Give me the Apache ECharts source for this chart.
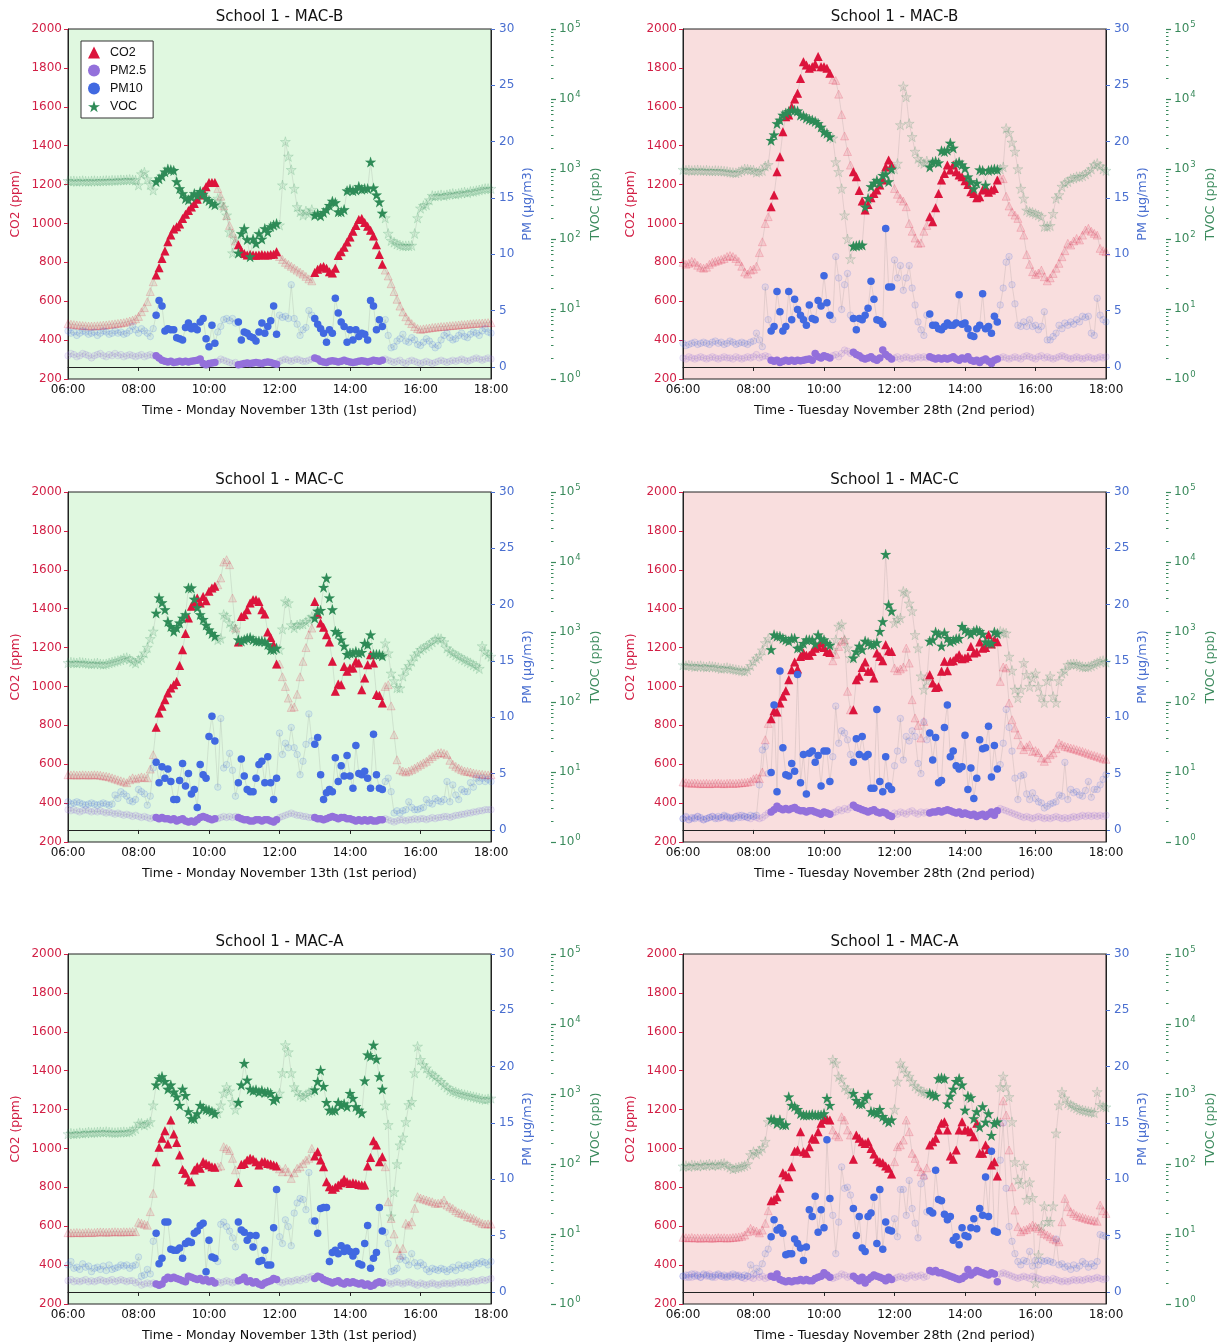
<!DOCTYPE html>
<html><head><meta charset="utf-8">
<script src="https://cdn.jsdelivr.net/npm/echarts@6/dist/echarts.min.js"></script>
<style>html,body{margin:0;padding:0;background:#fff}#c{width:1220px;height:1344px}</style>
</head><body><div id="c"></div>
<script>
// ---------------- DATA (5-minute samples, 06:00 .. 18:00, 145 values each) ----------------
const START_HOUR = 6, STEP_MIN = 5;
const CLASS_PERIODS = [['08:30','10:10'],['10:50','11:55'],['13:00','14:55']];
const PM_TICKS = [0, 5, 10, 15, 20, 25, 30];
const TVOC_TICKS = [1, 10, 100, 1000, 10000, 100000];
const TITLES = ['School 1 - MAC-B','School 1 - MAC-B','School 1 - MAC-C','School 1 - MAC-C','School 1 - MAC-A','School 1 - MAC-A'];
const X_NAMES = ['Time - Monday November 13th (1st period)','Time - Tuesday November 28th (2nd period)'];
const SERIES_NAMES = ['CO2','PM2.5','PM10','VOC'];

const P1_CO2 = [485,482,480,478,476,475,474,472,472,473,474,475,477,478,480,482,484,486,488,490,494,498,503,510,522,
546,567,598,650,700,
735,772,820,858,906,940,971,983,997,1026,1047,1066,1084,1103,1125,1146,1167,1189,1210,1210,1210,
1180,1140,1090,1040,990,950,910,
890,860,845,838,840,838,836,838,840,838,838,840,842,855,
830,815,800,790,780,770,760,750,740,728,715,705,
748,765,775,778,770,752,745,770,835,855,878,905,930,960,990,1020,1025,1005,985,965,935,890,840,790,
760,730,690,650,610,575,545,520,500,485,470,460,455,458,460,462,465,466,468,470,470,472,474,475,476,478,480,480,482,484,485,486,487,488,489,490,490];
const P1_PM25 = [1.0,1.2,1.1,0.9,1.0,1.2,1.1,1.0,0.8,1.0,1.1,1.2,1.0,0.9,1.1,1.0,1.2,1.0,1.1,0.9,1.0,1.1,1.0,0.9,1.0,1.1,0.9,1.0,1.1,1.0,
1.0,0.8,0.6,0.5,0.45,0.5,0.4,0.45,0.5,0.45,0.5,0.45,0.5,0.55,0.6,0.7,0.3,0.2,0.3,0.35,0.4,
0.5,0.7,0.6,0.5,0.4,0.3,0.4,
0.2,0.25,0.3,0.35,0.3,0.35,0.4,0.35,0.3,0.4,0.45,0.4,0.3,0.25,
0.5,0.6,0.7,0.6,0.5,0.6,0.7,0.6,0.5,0.5,0.6,0.7,
0.8,0.7,0.5,0.45,0.4,0.5,0.55,0.5,0.45,0.5,0.6,0.5,0.45,0.4,0.45,0.5,0.55,0.5,0.45,0.5,0.6,0.55,0.5,0.6,
0.7,0.6,0.5,0.4,0.5,0.6,0.4,0.3,0.5,0.6,0.5,0.4,0.3,0.4,0.5,0.4,0.3,0.4,0.5,0.6,0.5,0.4,0.5,0.6,0.5,0.6,0.7,0.6,0.5,0.6,0.7,0.8,0.7,0.6,0.7,0.8,0.7];
const P1_PM10 = [3.2,3.0,3.1,2.8,3.0,3.2,3.1,2.9,3.0,3.1,2.8,3.0,3.2,3.1,2.9,3.0,3.2,3.0,3.1,2.9,3.0,3.2,3.6,3.3,3.0,
3.4,3.2,3.0,2.7,3.4,
4.6,5.9,5.4,3.2,3.4,3.3,3.3,2.6,2.5,2.4,3.5,3.9,3.4,3.6,3.3,4.0,4.3,2.5,1.8,3.7,2.1,
3.1,3.6,4.2,4.3,4.1,4.3,3.9,
4.0,2.4,3.1,3.0,2.7,2.6,2.3,3.1,3.9,3.0,3.6,4.1,5.4,2.9,
4.6,4.4,4.5,4.3,7.3,4.3,3.8,2.8,3.3,3.5,5.0,4.6,
4.3,3.8,3.4,3.0,2.2,3.3,3.0,6.1,4.8,4.0,3.6,2.2,3.3,2.4,3.3,2.7,3.0,2.9,2.4,5.9,5.4,3.3,4.2,3.6,
4.2,2.8,1.7,1.8,2.3,2.5,2.9,2.3,2.2,2.6,2.4,2.0,1.9,2.2,2.5,2.3,2.0,1.7,1.9,2.4,2.8,3.0,2.6,2.4,2.5,2.8,3.0,2.7,2.6,2.9,3.1,3.0,2.8,3.2,3.4,3.1,3.0];
const P1_VOC = [680,670,675,665,670,680,670,665,675,680,670,675,680,685,680,690,685,690,700,695,700,710,700,690,590,
850,900,720,600,500,
661,724,794,912,1000,977,955,661,525,447,380,363,398,447,417,479,437,380,355,324,309,
380,316,282,219,126,63,100,
63,120,141,98,56,100,87,120,100,141,126,151,158,166,
158,589,2455,1514,977,525,288,245,219,251,229,263,
219,229,214,240,263,302,347,331,245,245,263,490,513,490,501,562,513,525,525,1259,537,427,339,234,
200,120,95,90,85,82,80,80,80,81,120,200,275,300,309,360,417,410,417,427,417,427,437,447,437,447,457,468,457,479,479,490,501,513,525,525,525];

const P2_CO2 = [800,790,795,805,800,785,775,770,775,790,800,805,810,815,820,830,835,830,820,805,780,750,740,760,765,
780,850,906,1000,1035,
1086,1146,1266,1343,1472,1549,1558,1600,1640,1669,1746,1832,1815,1798,1806,1820,1858,1806,1806,1798,1772,
1740,1735,1665,1560,1450,1370,1300,
1266,1240,1170,1115,1069,1098,1132,1154,1172,1198,1223,1290,1326,1300,
1180,1150,1129,1115,1086,1000,960,925,898,900,960,990,
1035,1009,1081,1154,1223,1257,1300,1275,1300,1266,1249,1240,1220,1200,1163,1154,1132,1137,1172,1180,1160,1172,1180,1223,
1232,1230,1140,1090,1060,1043,1026,980,940,840,790,752,738,745,760,726,705,720,743,770,795,829,860,898,889,910,923,915,940,966,975,960,949,940,872,860,855];
const P2_PM25 = [0.8,0.7,0.9,0.8,0.7,0.8,0.9,0.8,0.7,0.8,0.9,0.8,0.7,0.8,0.9,0.8,0.8,0.7,0.9,0.8,0.7,0.8,0.9,0.8,0.9,1.1,0.8,0.9,1.0,0.9,
0.6,0.5,0.6,0.4,0.5,0.6,0.5,0.6,0.5,0.6,0.55,0.6,0.65,0.7,0.6,1.2,0.9,0.8,1.0,0.9,0.8,
1.0,1.1,0.9,1.2,1.5,1.4,1.2,
1.3,1.1,1.0,0.8,0.7,0.8,0.9,0.7,0.6,0.8,1.5,1.1,0.9,0.7,
0.8,0.9,0.7,0.8,0.9,0.8,0.7,0.8,0.9,0.8,0.9,0.8,
0.9,0.8,0.7,0.8,0.7,0.8,0.7,0.8,0.9,0.7,0.6,0.8,0.7,0.9,0.6,0.5,0.6,0.4,0.6,0.7,0.5,0.3,0.6,0.7,
0.8,0.9,0.8,0.7,0.8,0.9,0.8,0.7,0.9,1.0,0.9,0.8,0.7,0.9,1.0,0.8,0.9,0.8,0.7,0.8,0.9,1.0,0.9,0.8,0.7,0.8,0.9,0.8,0.7,0.8,0.9,0.8,0.7,0.8,0.9,0.8,0.9];
const P2_PM10 = [2.1,1.9,2.0,2.1,2.2,2.0,2.1,2.2,2.1,2.0,2.2,2.3,2.1,2.2,2.0,2.1,2.3,2.2,2.0,2.1,2.2,2.1,2.0,2.2,2.3,
3.0,2.4,1.8,7.1,4.2,
3.2,3.6,6.7,4.9,3.2,3.6,6.7,4.2,6.0,5.1,4.6,4.2,3.7,5.5,4.3,4.2,5.9,5.4,8.1,5.7,4.6,
4.2,9.8,7.9,5.1,7.3,8.3,4.6,
4.3,3.3,4.3,4.2,4.6,5.2,7.6,6.0,4.2,4.1,3.8,12.3,7.1,7.1,
9.5,7.9,9.0,6.8,7.9,9.0,7.0,5.5,4.0,3.3,2.8,4.6,
4.7,3.7,3.7,3.4,3.3,3.6,3.9,3.7,3.7,3.9,6.4,3.8,3.9,3.4,2.8,2.7,3.4,3.7,6.5,3.4,3.6,3.0,4.5,4.0,
5.5,7.0,9.3,9.8,7.3,5.6,3.7,3.6,4.0,3.6,4.2,3.6,3.7,3.3,3.6,4.9,2.4,2.4,2.7,3.0,3.7,3.4,3.9,3.7,4.0,3.8,4.2,4.0,4.5,4.4,4.5,3.0,2.8,6.1,4.6,4.2,4.0];
const P2_VOC = [980,960,970,950,960,970,955,950,960,945,940,950,945,940,930,920,900,890,880,910,950,1000,990,970,960,
900,930,950,1100,1150,
2570,3090,4467,5012,5888,6310,6607,6918,6918,6761,5888,5754,5370,5129,5012,4786,4467,3981,3388,3236,2884,
2754,1259,912,525,219,100,52,
79,80,82,82,288,380,562,631,692,631,813,851,661,1000,
1000,1200,4266,15136,10715,4467,2884,1778,1413,1259,1200,1300,
1072,1259,1288,1230,1820,1778,1862,2344,1995,1202,1259,1148,1023,776,661,525,631,977,950,589,955,977,1000,980,
1000,1072,3800,3300,2400,1778,1000,525,380,257,245,240,230,220,209,151,151,155,230,380,427,562,630,661,724,741,776,776,800,850,912,1000,1148,1202,1100,1000,950];

const P3_CO2 = [546,545,546,544,545,546,545,544,545,546,545,543,540,538,535,530,525,520,515,510,505,520,530,525,530,
535,532,530,575,649,
790,863,898,932,966,992,1009,1026,1108,1189,1272,1352,1412,1429,1455,1429,1463,1441,1489,1506,1515,
1523,1558,1640,1652,1626,1455,1300,
1229,1360,1369,1395,1429,1446,1446,1437,1395,1372,1280,1252,1215,1115,
1115,1050,1000,940,892,895,960,1050,1129,1200,1266,1300,
1437,1372,1326,1304,1266,1229,1129,975,1013,1009,1103,1078,1095,1095,1129,1120,983,1043,1112,1163,1120,958,954,915,
1000,1009,900,752,623,572,565,560,565,572,580,590,598,607,615,628,640,649,658,660,656,650,620,600,589,580,572,565,563,560,555,552,550,548,546,545,546];
const P3_PM25 = [1.8,1.7,1.8,1.7,1.6,1.7,1.8,1.7,1.6,1.7,1.6,1.7,1.6,1.5,1.6,1.5,1.4,1.5,1.4,1.3,1.4,1.3,1.2,1.3,1.2,1.1,1.2,1.1,1.0,1.1,
1.1,1.0,1.1,1.0,1.0,0.9,1.0,0.8,0.9,1.0,0.8,0.7,0.8,0.7,0.9,1.1,1.2,1.1,1.0,0.9,1.0,
1.0,1.1,1.2,1.1,1.2,1.1,1.2,
1.1,1.0,0.9,0.9,0.8,0.8,0.9,0.9,0.8,0.9,0.9,0.8,0.7,0.9,
1.1,1.2,1.3,1.4,1.5,1.4,1.3,1.3,1.2,1.2,1.1,1.1,
1.1,1.0,1.0,0.9,1.0,1.1,1.2,1.1,1.0,1.1,1.1,1.0,1.0,0.9,0.8,0.9,0.8,0.9,0.8,0.9,0.8,0.8,0.9,0.9,
1.0,0.9,0.8,0.7,0.8,0.9,0.9,0.8,0.9,0.9,1.0,0.9,1.0,1.0,0.9,1.0,1.1,1.0,1.1,1.1,1.2,1.2,1.1,1.2,1.3,1.3,1.4,1.4,1.5,1.5,1.6,1.6,1.7,1.7,1.8,1.8,1.8];
const P3_PM10 = [2.5,2.3,2.4,2.5,2.4,2.3,2.2,2.3,2.4,2.3,2.2,2.3,2.4,2.3,2.2,2.3,3.1,2.8,3.4,3.2,3.0,2.6,2.5,2.7,3.6,
3.4,3.2,2.2,3.0,5.5,
6.0,4.2,5.6,4.6,5.4,4.3,2.7,2.7,4.4,5.9,3.9,5.0,3.2,3.6,2.0,5.8,4.9,4.6,8.3,10.1,7.9,
3.8,9.9,5.5,5.8,6.8,5.3,3.0,
4.2,6.3,4.8,3.6,3.4,3.4,4.6,5.8,6.1,4.2,6.5,4.2,2.7,4.6,
8.6,6.7,7.7,7.3,9.1,7.3,6.7,4.9,6.1,7.6,10.3,7.9,
7.6,8.2,4.9,2.7,3.3,3.6,3.4,6.4,4.3,5.7,4.8,6.6,4.8,3.7,7.5,5.0,4.9,5.2,4.6,3.7,8.5,4.9,3.7,3.6,
4.3,4.6,3.4,1.5,1.7,1.5,1.7,1.8,2.5,2.0,1.8,1.8,1.9,2.0,2.7,2.4,2.3,2.8,2.6,2.5,2.7,4.3,2.5,4.0,3.1,2.7,3.6,3.4,3.4,4.2,3.8,4.6,4.3,4.6,4.3,4.5,4.3];
const P3_VOC = [363,370,365,360,370,365,360,355,350,355,360,350,345,350,360,370,380,390,400,420,430,410,380,360,400,
430,500,600,800,1023,
1862,3090,2630,2089,1413,1202,1023,1148,1349,1585,1778,4266,4266,2951,2239,1778,1514,1259,1072,955,871,
776,812,1778,1660,1349,1200,1100,
776,741,776,812,832,776,741,741,741,724,661,562,562,589,
562,1100,2754,2600,1259,1148,1259,1300,1300,1400,1500,1660,
1585,1995,2042,4365,5888,3090,2089,1023,955,776,631,479,501,501,525,501,513,692,661,912,479,479,479,457,
692,500,257,200,160,158,234,288,330,380,450,501,560,589,630,661,720,776,812,800,720,589,530,501,470,447,420,398,380,363,340,324,300,631,525,480,447];

const P4_CO2 = [509,505,503,502,503,502,500,501,502,500,501,502,503,501,500,502,503,501,502,503,505,506,508,512,525,
530,526,560,726,810,
834,875,868,915,949,978,1035,1086,1126,1090,1154,1172,1160,1160,1180,1197,1206,1223,1200,1180,1175,
1132,1166,1206,1232,1240,975,880,
880,1035,1052,1098,1126,1078,1078,1043,1172,1154,1132,1215,1184,1180,
1095,1081,1090,1100,1197,1120,932,838,800,735,820,1052,
1060,1018,995,998,1078,1129,1081,1129,1132,1149,1163,1143,1146,1154,1206,1172,1177,1229,1197,1200,1266,1218,1240,1230,
1026,1100,1095,915,829,786,752,700,675,690,700,666,670,660,632,615,630,649,658,680,709,700,692,688,683,680,675,670,666,660,655,649,645,640,635,629,625];
const P4_PM25 = [1.0,1.1,0.9,1.0,1.1,1.2,1.0,0.9,1.0,1.1,1.2,1.1,1.0,1.1,1.2,1.1,1.0,1.1,1.2,1.3,1.1,1.2,1.1,1.0,1.2,1.1,1.0,1.1,1.3,1.5,
1.6,1.8,2.1,1.9,1.8,1.9,1.8,1.9,2.0,1.8,1.7,1.7,1.6,1.7,1.7,1.6,1.5,1.4,1.6,1.5,1.4,
1.5,1.6,1.8,1.7,1.9,1.8,2.0,
2.2,2.0,1.9,1.8,1.7,1.6,1.7,1.8,1.6,1.5,1.6,1.5,1.3,1.2,
1.5,1.4,1.6,1.5,1.4,1.6,1.7,1.5,1.4,1.6,1.5,1.6,
1.5,1.6,1.6,1.7,1.6,1.7,1.8,1.7,1.6,1.5,1.6,1.4,1.5,1.4,1.3,1.4,1.2,1.3,1.4,1.2,1.4,1.6,1.3,1.7,
1.9,1.8,1.7,1.6,1.5,1.4,1.3,1.2,1.1,1.2,1.1,1.0,1.1,1.2,1.1,1.0,1.1,1.0,1.1,1.2,1.1,1.0,1.1,1.0,1.1,1.2,1.1,1.2,1.3,1.2,1.3,1.2,1.3,1.2,1.3,1.2,1.3];
const P4_PM10 = [1.0,1.2,0.9,1.1,1.0,1.2,1.1,0.9,1.0,1.1,1.2,1.0,1.2,1.1,1.3,1.2,1.1,1.0,1.2,1.1,1.3,1.2,1.1,1.3,1.2,
1.3,4.0,7.1,7.4,5.0,
5.1,11.1,3.4,14.1,7.3,4.9,4.8,5.9,5.2,13.8,4.2,6.7,3.2,6.8,7.0,6.0,6.6,3.9,7.0,7.0,4.3,
6.5,11.0,7.7,8.8,8.6,8.0,6.7,
6.0,8.1,6.7,8.3,6.5,6.7,3.7,3.7,10.7,4.3,3.4,6.5,3.9,3.6,
5.7,7.0,9.9,6.2,8.3,7.9,8.8,8.3,5.9,5.0,9.6,8.0,
8.6,6.2,8.2,4.2,4.4,9.1,11.1,6.5,7.0,5.7,5.4,5.6,8.4,3.6,5.5,2.8,4.6,8.0,7.2,7.3,9.2,4.7,7.5,5.4,
5.8,7.7,10.7,9.1,7.0,4.6,2.7,4.8,4.9,3.2,2.7,3.3,2.8,2.5,2.4,1.95,2.1,2.3,2.4,2.5,3.1,3.0,6.0,2.7,3.6,3.3,3.4,3.1,3.0,3.5,4.3,2.9,3.6,3.6,4.0,4.5,4.9];
const P4_VOC = [339,330,335,330,320,325,330,320,315,325,320,315,310,300,305,310,300,295,290,285,280,275,290,330,380,
420,460,550,700,800,
562,912,871,871,813,776,741,813,813,589,600,692,776,776,776,676,912,800,776,692,650,
562,776,1202,1288,776,589,427,
427,525,631,562,741,708,661,661,708,1023,1413,12900,2455,1995,
1349,1500,1585,3800,3600,2570,1995,912,589,234,151,200,
741,776,1000,933,631,977,813,724,760,800,813,1202,1072,1000,933,1023,1072,1023,933,724,700,692,1000,950,
1023,977,960,447,282,151,115,151,363,245,166,220,257,166,120,98,200,234,120,98,200,257,280,339,347,350,347,330,320,316,320,330,347,363,380,390,370];

const P5_CO2 = [567,566,567,568,567,566,568,569,567,568,570,571,570,569,570,571,572,571,570,572,571,572,573,572,620,
615,610,605,675,769,
932,1006,1052,1091,1023,1146,1074,1030,966,892,872,838,829,889,906,898,932,923,915,906,903,
906,910,1009,1000,990,949,890,
825,918,923,940,949,944,932,915,932,932,923,920,915,910,
895,880,898,880,846,875,898,906,923,940,949,1000,
961,983,940,906,829,803,790,800,812,824,841,829,820,824,820,815,812,812,910,954,1040,1018,932,957,
906,726,640,560,486,452,486,615,606,623,692,752,745,740,735,730,726,718,718,720,735,709,700,692,680,670,666,660,649,645,640,630,623,615,611,612,611];
const P5_PM25 = [1.0,1.1,0.9,1.0,0.9,1.0,1.1,0.9,1.0,0.9,1.0,1.1,1.0,0.9,1.0,1.1,0.9,1.0,1.1,1.0,0.9,1.0,1.0,0.8,0.9,0.6,0.7,0.8,0.7,0.8,
0.7,0.6,0.7,1.1,1.3,1.2,1.3,1.2,1.1,1.0,0.9,1.4,1.3,1.2,1.1,1.2,1.0,1.1,0.9,1.0,0.8,
0.9,0.8,0.9,1.0,0.9,0.8,0.9,
1.0,1.1,1.3,0.9,1.0,0.8,0.9,0.7,0.6,0.8,0.9,1.0,1.2,1.1,
0.9,0.8,0.9,1.0,0.9,1.0,1.1,1.0,1.2,1.1,1.3,1.4,
1.2,1.4,1.3,1.1,1.0,0.9,0.8,0.9,1.0,0.8,0.7,0.9,0.8,0.9,0.8,0.7,0.8,0.6,0.7,0.5,0.6,0.8,0.9,0.8,
0.9,0.8,0.7,0.8,0.9,0.8,0.7,0.8,0.9,0.8,0.7,0.6,0.8,0.7,0.6,0.7,0.8,0.7,0.6,0.7,0.8,0.7,0.8,0.7,0.8,0.9,0.8,0.9,0.8,0.9,1.0,0.9,1.0,1.1,1.0,1.1,1.2];
const P5_PM10 = [2.4,2.7,2.1,2.2,2.0,2.5,2.2,2.3,1.8,2.1,2.2,2.0,2.3,1.9,2.4,2.0,2.1,2.2,2.4,2.3,2.4,2.1,2.3,2.4,3.1,
1.4,1.5,2.0,1.6,4.5,
5.2,2.5,3.0,6.2,6.2,3.8,3.7,3.7,3.9,3.0,4.3,4.5,4.4,5.2,5.4,5.9,6.1,1.8,4.6,3.1,3.0,
2.7,6.0,6.2,5.8,5.4,4.8,4.0,
6.2,5.5,5.3,4.6,5.0,4.0,5.0,2.7,2.8,3.7,2.4,2.4,5.7,9.1,
4.9,4.3,6.4,5.8,4.1,7.0,7.9,8.3,8.2,7.3,10.6,6.3,
6.3,5.2,7.4,7.5,7.5,2.7,3.5,3.7,3.4,4.1,3.6,3.9,3.6,3.2,3.6,2.5,2.4,4.3,5.9,2.1,3.0,3.5,7.5,5.4,
5.3,4.3,1.8,1.9,2.1,2.9,3.1,2.8,2.4,3.4,2.6,2.3,2.6,2.4,2.0,1.8,2.1,2.0,1.9,2.1,2.0,1.8,2.0,2.2,1.9,2.4,2.1,2.3,2.4,2.2,2.4,2.6,2.5,2.7,2.6,2.4,2.7];
const P5_VOC = [269,275,270,272,280,275,278,285,280,282,285,288,285,290,285,282,280,283,285,288,285,290,300,320,380,
380,360,380,400,692,
1349,1660,1778,1514,1175,1349,1072,912,692,1175,955,562,447,447,525,692,631,600,589,562,525,
537,692,1023,1259,1100,776,600,
759,1349,2754,1585,1175,1122,1148,1072,1122,1047,1072,1023,813,870,
1023,2000,5012,3981,1995,1259,1072,955,912,977,1047,1100,
1148,1514,2188,1288,759,589,580,589,759,692,724,661,1023,871,661,589,537,1549,3631,3467,5012,3162,1778,1175,
692,363,18,40,100,186,240,400,700,776,2000,4786,3090,2600,2344,2000,1900,1778,1600,1500,1349,1250,1148,1100,1072,1023,1000,977,955,933,912,891,871,851,832,851,871];

const P6_CO2 = [543,541,540,542,539,540,538,540,541,539,538,540,542,540,541,539,540,542,543,545,548,555,572,589,580,
575,566,580,615,680,
731,738,752,795,875,863,855,906,986,992,1086,983,975,1009,1052,1047,1086,1129,1149,1149,1146,
1095,1069,1060,1163,1146,1095,1069,
944,1069,1052,1035,1026,1035,1000,971,944,932,927,910,898,868,
932,1009,1018,1043,1146,1086,975,949,906,880,863,900,
1018,1035,1052,1095,1129,1137,1095,961,944,992,1095,1137,1095,1095,1086,1060,1129,975,975,1018,995,915,932,858,
1137,1245,1172,992,803,683,598,572,580,584,595,606,598,589,575,563,555,546,535,529,520,623,743,700,675,666,655,649,645,640,635,632,629,625,709,680,666];
const P6_PM25 = [1.4,1.3,1.5,1.3,1.6,1.4,1.3,1.5,1.4,1.6,1.4,1.3,1.5,1.4,1.3,1.4,1.5,1.3,1.4,1.5,1.3,1.2,1.4,1.3,1.2,1.5,1.3,1.4,1.2,1.3,
1.4,1.3,1.6,1.1,1.0,0.9,1.0,0.9,1.0,1.0,1.1,1.0,1.1,1.0,1.0,1.2,1.3,1.4,1.7,1.5,1.3,
1.2,1.3,1.4,1.6,1.5,1.3,1.4,
1.4,1.2,1.0,1.3,0.8,1.1,1.3,1.5,1.4,1.3,1.2,1.0,1.3,1.1,
1.2,1.3,1.4,1.3,1.2,1.4,1.5,1.3,1.4,1.5,1.3,1.4,
1.9,1.8,1.9,1.7,1.7,1.6,1.5,1.4,1.3,1.2,1.1,1.2,1.4,2.0,1.5,1.7,1.9,1.8,1.7,1.6,1.5,1.7,1.6,0.9,
1.6,1.7,1.6,1.5,1.4,1.3,1.2,1.3,1.4,1.3,1.2,1.4,1.3,1.2,1.1,1.0,1.1,1.0,1.2,1.1,1.0,0.9,1.0,0.9,1.0,1.1,1.0,1.1,1.0,1.1,1.2,1.1,1.2,1.3,1.2,1.1,1.2];
const P6_PM10 = [1.4,1.5,1.3,1.6,1.4,1.5,1.3,1.6,1.5,1.4,1.3,1.5,1.6,1.4,1.5,1.3,1.4,1.6,1.5,1.4,1.3,1.5,1.4,2.4,1.6,
2.1,1.8,2.5,3.4,3.8,
4.9,6.4,5.5,5.7,5.2,3.3,3.4,3.4,4.7,4.3,3.9,2.8,4.0,7.3,6.7,8.5,5.3,7.3,5.7,13.5,8.3,
6.8,3.4,6.2,11.1,9.2,9.3,8.6,
7.4,5.0,6.7,3.9,3.6,6.7,7.0,8.4,4.3,9.1,3.8,6.2,5.5,5.4,
6.5,4.9,9.1,9.1,6.8,9.9,7.4,6.1,4.8,9.6,10.2,7.1,
7.2,7.0,10.8,8.2,8.1,6.9,6.4,6.7,4.6,4.9,4.2,5.7,5.0,4.9,5.7,6.5,5.6,7.4,6.8,10.2,6.7,12.5,5.4,5.3,
11.7,15.0,9.2,5.8,4.5,3.4,2.7,2.4,2.8,2.7,3.6,2.3,2.8,2.4,2.8,2.7,2.8,2.7,2.6,4.7,2.4,2.5,2.2,2.3,2.0,2.4,2.1,2.3,2.7,2.5,2.2,2.5,2.3,2.7,5.1,5.0,4.9];
const P6_VOC = [93,95,92,97,95,93,98,95,97,100,95,98,96,100,102,95,90,85,88,90,92,95,100,135,150,
140,155,170,209,400,
437,427,380,427,363,363,912,692,661,603,525,501,501,501,513,501,501,500,525,871,692,
3090,2754,1778,1622,1259,1148,1000,
1023,813,724,724,871,977,562,550,525,603,479,427,398,427,
600,1514,2754,2344,2000,1778,1500,1300,1202,1100,1072,1023,
1023,977,933,1660,1700,1660,724,933,1175,1514,1660,1350,589,933,891,447,562,339,661,398,525,257,380,400,
1259,1778,1259,912,400,107,60,52,95,31,55,33,2,5,13,25,15,15,25,275,692,1072,871,741,700,661,631,600,589,575,562,550,540,1072,700,661,650];

const PANEL_DATA = [
  [P1_CO2, P1_PM25, P1_PM10, P1_VOC],
  [P2_CO2, P2_PM25, P2_PM10, P2_VOC],
  [P3_CO2, P3_PM25, P3_PM10, P3_VOC],
  [P4_CO2, P4_PM25, P4_PM10, P4_VOC],
  [P5_CO2, P5_PM25, P5_PM10, P5_VOC],
  [P6_CO2, P6_PM25, P6_PM10, P6_VOC]
];

// ---------------- STYLE / LAYOUT ----------------
const FONT = 'DejaVu Sans';
const STAR = 'path://M50,0 L61.2,34.5 L97.6,34.5 L68.2,55.9 L79.4,90.5 L50,69.1 L20.6,90.5 L31.8,55.9 L2.4,34.5 L38.8,34.5 Z';
const COLORS = ['#DC143C', '#9370DB', '#4169E1', '#2E8B57'];
const PM_COLOR = '#4a6fd0', TVOC_COLOR = '#3a8a5c', CO2_COLOR = '#d21f45';
const SYMBOLS = ['triangle', 'circle', 'circle', STAR];
const SIZES = [9, 7.5, 7.5, 11];
const AXIS_OF = [0, 1, 1, 2];
const BG = ['#e0f8e0', '#f9dede'];
const LEFTS = [68, 683], TOPS = [29, 492, 954], W = 423, H = 350;

function rgba(hex, a) {
  const n = parseInt(hex.slice(1), 16);
  return 'rgba(' + (n >> 16 & 255) + ',' + (n >> 8 & 255) + ',' + (n & 255) + ',' + a + ')';
}
function hm(s) { const p = s.split(':'); return +p[0] + (+p[1]) / 60; }
const PER = CLASS_PERIODS.map(p => [hm(p[0]), hm(p[1])]);
const inClass = t => PER.some(p => t >= p[0] - 1e-6 && t <= p[1] + 1e-6);
const T = i => START_HOUR + i * STEP_MIN / 60;

const minorTicks = [];
for (let e = 0; e < 5; e++) for (let m = 2; m <= 9; m++) minorTicks.push(m * Math.pow(10, e));

const grids = [], xAxes = [], yAxes = [], series = [], titles = [];
PANEL_DATA.forEach((vars, k) => {
  const col = k % 2, row = Math.floor(k / 2);
  const left = LEFTS[col], top = TOPS[row];
  grids.push({left: left, top: top, width: W, height: H, show: true, backgroundColor: BG[col],
    borderColor: '#222', borderWidth: 1, containLabel: false});
  titles.push({text: TITLES[k], left: left + W / 2, top: top - 19, textAlign: 'center', padding: 0,
    textStyle: {fontFamily: FONT, fontSize: 15, fontWeight: 'normal', color: '#111'}});
  xAxes.push({type: 'value', gridIndex: k, min: 6, max: 18, interval: 2,
    axisLine: {show: true, lineStyle: {color: '#222'}},
    axisTick: {show: true, length: 4, lineStyle: {color: '#222'}},
    axisLabel: {fontFamily: FONT, fontSize: 12, color: '#111', margin: 5,
      formatter: v => (v < 10 ? '0' : '') + v + ':00'},
    splitLine: {show: false},
    name: X_NAMES[col], nameLocation: 'middle', nameGap: 25,
    nameTextStyle: {fontFamily: FONT, fontSize: 12.7, color: '#111'}});
  yAxes.push({type: 'value', gridIndex: k, position: 'left', min: 200, max: 2000, interval: 200,
    axisLine: {show: true, lineStyle: {color: '#222'}},
    axisTick: {show: true, length: 4, lineStyle: {color: CO2_COLOR}},
    axisLabel: {fontFamily: FONT, fontSize: 12, color: CO2_COLOR, margin: 6, formatter: v => String(v)},
    splitLine: {show: false},
    name: 'CO2 (ppm)', nameLocation: 'middle', nameGap: 46, nameRotate: 90,
    nameTextStyle: {fontFamily: FONT, fontSize: 12.3, color: CO2_COLOR}});
  yAxes.push({type: 'value', gridIndex: k, position: 'right', min: -1.07, max: 30,
    axisLine: {show: true, lineStyle: {color: '#222'}},
    axisTick: {show: true, length: 4, customValues: PM_TICKS, lineStyle: {color: PM_COLOR}},
    axisLabel: {fontFamily: FONT, fontSize: 12, color: PM_COLOR, margin: 8, customValues: PM_TICKS, formatter: v => String(v)},
    splitLine: {show: false},
    name: 'PM (µg/m3)', nameLocation: 'middle', nameGap: 30, nameRotate: 90,
    nameTextStyle: {fontFamily: FONT, fontSize: 12.7, color: PM_COLOR}});
  yAxes.push({type: 'log', logBase: 10, gridIndex: k, position: 'right', offset: 60, min: 1, max: 100000,
    axisLine: {show: false},
    axisTick: {show: true, length: 5, customValues: TVOC_TICKS, lineStyle: {color: TVOC_COLOR, width: 1.2}},
    axisLabel: {customValues: TVOC_TICKS, margin: 8,
      formatter: v => '{b|10}{s|' + Math.round(Math.log10(v)) + '}',
      rich: {b: {fontFamily: FONT, fontSize: 12, color: TVOC_COLOR},
             s: {fontFamily: FONT, fontSize: 8.5, color: TVOC_COLOR, padding: [0, 0, 8, 1]}}},
    splitLine: {show: false},
    name: 'TVOC (ppb)', nameLocation: 'middle', nameGap: 38, nameRotate: 90,
    nameTextStyle: {fontFamily: FONT, fontSize: 12.7, color: TVOC_COLOR}});
  yAxes.push({type: 'log', logBase: 10, gridIndex: k, position: 'right', offset: 60, min: 1, max: 100000,
    axisLine: {show: false},
    axisTick: {show: true, length: 2.5, customValues: minorTicks, lineStyle: {color: TVOC_COLOR}},
    axisLabel: {show: false}, splitLine: {show: false}});

  vars.forEach((arr, v) => {
    const yIdx = 4 * k + AXIS_OF[v];
    series.push({type: 'line', name: SERIES_NAMES[v] + ' (all day)', xAxisIndex: k, yAxisIndex: yIdx,
      data: arr.map((y, i) => [T(i), y]), symbol: SYMBOLS[v], symbolSize: SIZES[v] - 1, showAllSymbol: true,
      itemStyle: {color: rgba(COLORS[v], 0.1), borderColor: rgba(COLORS[v], 0.22), borderWidth: 0.8},
      lineStyle: {color: 'rgba(110,110,110,0.2)', width: 0.8},
      silent: true, animation: false, z: 1});
  });
  vars.forEach((arr, v) => {
    const yIdx = 4 * k + AXIS_OF[v];
    const hi = arr.map((y, i) => [T(i), y]).filter(p => inClass(p[0]));
    series.push({type: 'scatter', name: SERIES_NAMES[v], xAxisIndex: k, yAxisIndex: yIdx,
      data: hi, symbol: SYMBOLS[v], symbolSize: SIZES[v],
      itemStyle: {color: COLORS[v], opacity: 1},
      silent: true, animation: false, z: 3});
  });
});

const chart = echarts.init(document.getElementById('c'), null, {renderer: 'canvas'});
chart.setOption({
  animation: false,
  backgroundColor: '#ffffff',
  title: titles,
  grid: grids,
  xAxis: xAxes,
  yAxis: yAxes,
  legend: {left: 81, top: 41, orient: 'vertical', selectedMode: false,
    data: [{name: 'CO2', icon: 'triangle'}, {name: 'PM2.5', icon: 'circle'},
           {name: 'PM10', icon: 'circle'}, {name: 'VOC', icon: STAR}],
    itemWidth: 12, itemHeight: 12, itemGap: 5, padding: [5, 7, 5, 7],
    borderColor: '#333', borderWidth: 1, borderRadius: 0, backgroundColor: '#ffffff',
    textStyle: {fontFamily: 'Liberation Sans', fontSize: 12.5, color: '#111', padding: [0, 0, 0, 5]}},
  series: series
});
</script>
</body></html>
